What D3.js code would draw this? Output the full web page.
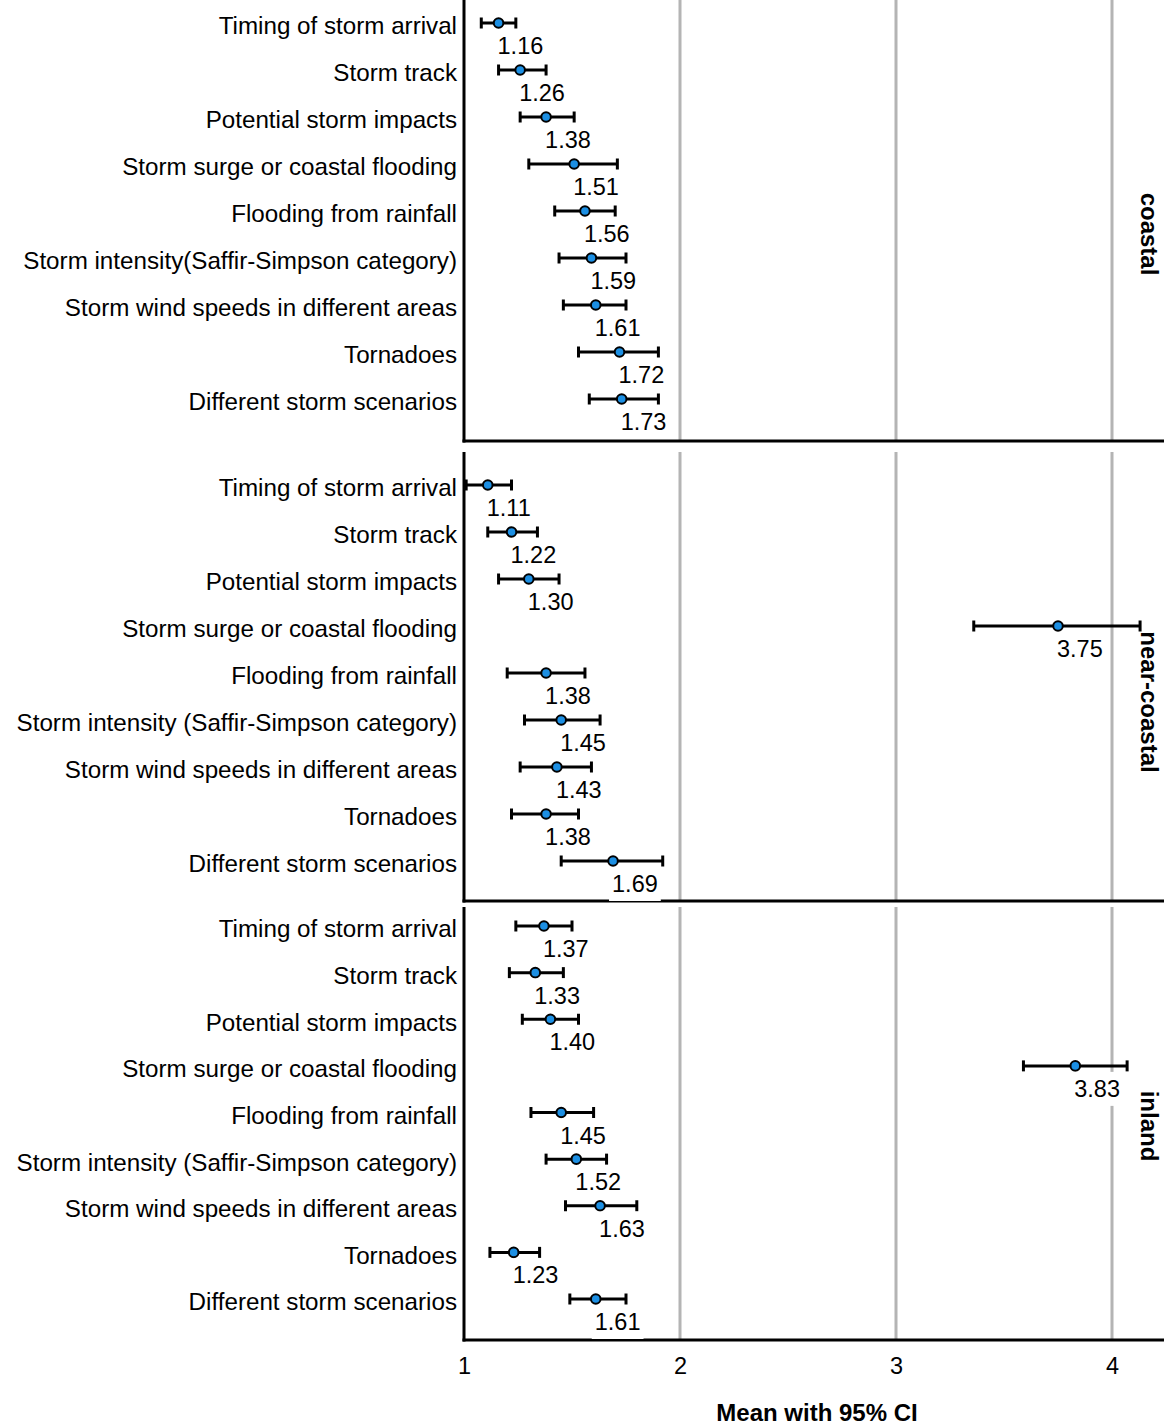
<!DOCTYPE html>
<html>
<head>
<meta charset="utf-8">
<script src="https://cdn.jsdelivr.net/npm/d3@7"></script>
<style>
  html, body { margin: 0; padding: 0; background: #fff; }
  svg { display: block; }
  text { font-family: "Liberation Sans", Arial, Helvetica, sans-serif; fill: #000; }
</style>
</head>
<body>
<div id="chart"></div>
<script>
// Items rated in the survey (same order in every region panel)
const categories = [
  "Timing of storm arrival",
  "Storm track",
  "Potential storm impacts",
  "Storm surge or coastal flooding",
  "Flooding from rainfall",
  "Storm intensity (Saffir-Simpson category)",
  "Storm wind speeds in different areas",
  "Tornadoes",
  "Different storm scenarios"
];
// The coastal panel prints the intensity item without the space
const coastalLabels = categories.map(c =>
  c === "Storm intensity (Saffir-Simpson category)" ? "Storm intensity(Saffir-Simpson category)" : c);

const regions = ["coastal", "near-coastal", "inland"];

// Means and 95% confidence limits per region
const coastalMean = [1.16, 1.26, 1.38, 1.51, 1.56, 1.59, 1.61, 1.72, 1.73];
const coastalLow  = [1.08, 1.16, 1.26, 1.30, 1.42, 1.44, 1.46, 1.53, 1.58];
const coastalHigh = [1.24, 1.38, 1.51, 1.71, 1.70, 1.75, 1.75, 1.90, 1.90];

const nearMean = [1.11, 1.22, 1.30, 3.75, 1.38, 1.45, 1.43, 1.38, 1.69];
const nearLow  = [1.01, 1.11, 1.16, 3.36, 1.20, 1.28, 1.26, 1.22, 1.45];
const nearHigh = [1.22, 1.34, 1.44, 4.13, 1.56, 1.63, 1.59, 1.53, 1.92];

const inlandMean = [1.37, 1.33, 1.40, 3.83, 1.45, 1.52, 1.63, 1.23, 1.61];
const inlandLow  = [1.24, 1.21, 1.27, 3.59, 1.31, 1.38, 1.47, 1.12, 1.49];
const inlandHigh = [1.50, 1.46, 1.53, 4.07, 1.60, 1.66, 1.80, 1.35, 1.75];

const xTicks = [1, 2, 3, 4];
const xTitle = "Mean with 95% CI";

// Page geometry
const W = 1164, H = 1427;
const plotLeft = 464;
const stripX = 1141;
const panels = [
  { labels: coastalLabels, mean: coastalMean, low: coastalLow, high: coastalHigh,
    top: 0,   bottom: 441,  rows: [23, 399],   stripY: 234 },
  { labels: categories,    mean: nearMean,    low: nearLow,    high: nearHigh,
    top: 452, bottom: 901,  rows: [485, 861],  stripY: 702 },
  { labels: categories,    mean: inlandMean,  low: inlandLow,  high: inlandHigh,
    top: 907, bottom: 1340, rows: [926, 1299], stripY: 1126 }
];

const x = d3.scaleLinear().domain([1, 4]).range([plotLeft, 1112]);

const svg = d3.select("#chart").append("svg")
  .attr("width", W).attr("height", H);

panels.forEach((p, pi) => {
  const g = svg.append("g").attr("class", "panel");
  const y = d3.scalePoint().domain(categories).range(p.rows);

  // vertical gridlines
  g.append("g").selectAll("line")
    .data(xTicks.filter(t => t > 1))
    .join("line")
      .attr("x1", d => x(d)).attr("x2", d => x(d))
      .attr("y1", p.top).attr("y2", p.bottom)
      .attr("stroke", "#b4b4b4").attr("stroke-width", 3);

  // category labels
  const yAxis = d3.axisLeft(y).tickSize(0).tickPadding(7)
    .tickFormat((d, i) => p.labels[i]);
  const ya = g.append("g").attr("transform", `translate(${plotLeft},0)`).call(yAxis);
  ya.select(".domain").remove();
  ya.selectAll("text")
    .attr("font-family", null)
    .style("font-size", "24.2px")
    .attr("dy", "0.45em");

  // panel frame: left and bottom axis lines
  g.append("line")
    .attr("x1", plotLeft).attr("x2", plotLeft)
    .attr("y1", p.top).attr("y2", p.bottom + 1.5)
    .attr("stroke", "#000").attr("stroke-width", 3);
  g.append("line")
    .attr("x1", plotLeft - 1.5).attr("x2", W)
    .attr("y1", p.bottom).attr("y2", p.bottom)
    .attr("stroke", "#000").attr("stroke-width", 3);

  const rows = categories.map((c, i) => ({ c, m: p.mean[i], lo: p.low[i], hi: p.high[i] }));

  // confidence interval bars
  const bars = g.append("g").selectAll("g").data(rows).join("g");
  bars.append("line")
    .attr("x1", d => x(d.lo)).attr("x2", d => x(d.hi))
    .attr("y1", d => y(d.c)).attr("y2", d => y(d.c))
    .attr("stroke", "#000").attr("stroke-width", 3);
  ["lo", "hi"].forEach(k => {
    bars.append("line")
      .attr("x1", d => x(d[k])).attr("x2", d => x(d[k]))
      .attr("y1", d => y(d.c) - 5.5).attr("y2", d => y(d.c) + 5.5)
      .attr("stroke", "#000").attr("stroke-width", 3);
  });

  // mean markers
  g.append("g").selectAll("circle").data(rows).join("circle")
    .attr("cx", d => x(d.m)).attr("cy", d => y(d.c))
    .attr("r", 4.8)
    .attr("fill", "#1c8fe3").attr("stroke", "#000").attr("stroke-width", 2);

  // value labels on white boxes
  const lab = g.append("g").selectAll("g").data(rows).join("g");
  lab.append("text")
    .attr("x", d => x(d.m) - 1)
    .attr("y", d => y(d.c) + 31)
    .style("font-size", "23.5px")
    .text(d => d.m.toFixed(2));
  lab.each(function () {
    const t = d3.select(this).select("text");
    const b = t.node().getBBox();
    d3.select(this).insert("rect", "text")
      .attr("x", b.x - 3).attr("y", b.y - 4)
      .attr("width", b.width + 6).attr("height", b.height + 8)
      .attr("fill", "#fff");
  });

  // region strip label
  svg.append("text")
    .attr("transform", `translate(${stripX},${p.stripY}) rotate(90)`)
    .attr("text-anchor", "middle")
    .style("font-size", "24px").style("font-weight", "bold")
    .text(regions[pi]);

  // numeric axis under the last panel
  if (pi === panels.length - 1) {
    const xa = svg.append("g")
      .attr("transform", `translate(0,${p.bottom})`)
      .call(d3.axisBottom(x).tickValues(xTicks).tickSize(0).tickPadding(17)
        .tickFormat(d3.format("d")));
    xa.select(".domain").remove();
    xa.selectAll("text").attr("font-family", null).style("font-size", "23.5px");
  }
});

// axis title
svg.append("text")
  .attr("x", 817).attr("y", 1421)
  .attr("text-anchor", "middle")
  .style("font-size", "24px").style("font-weight", "bold")
  .text(xTitle);
</script>
</body>
</html>
